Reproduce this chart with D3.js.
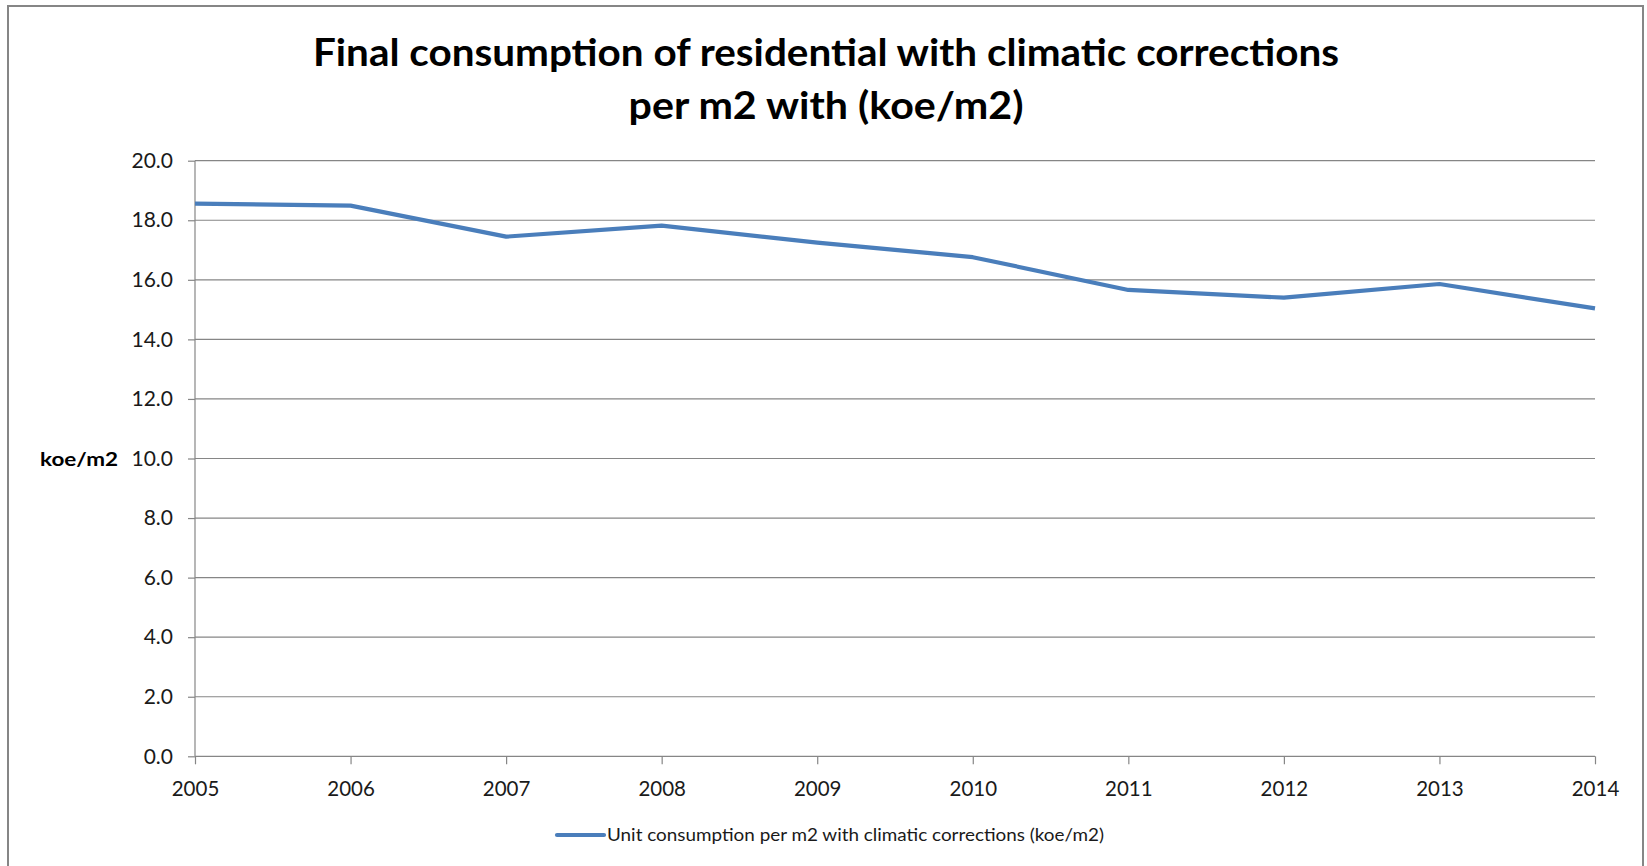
<!DOCTYPE html>
<html><head><meta charset="utf-8">
<script src="https://cdn.jsdelivr.net/npm/d3@7"></script>
<style>html,body{margin:0;padding:0;background:#fff;}svg{display:block;}</style>
</head><body>
<script>
const years = [2005,2006,2007,2008,2009,2010,2011,2012,2013,2014];
const values = [18.56,18.49,17.45,17.82,17.25,16.76,15.66,15.40,15.86,15.04];
const yTicks = [0,2,4,6,8,10,12,14,16,18,20];
const titleLines = ["Final consumption of residential with climatic corrections","per m2 with (koe/m2)"];
const yAxisTitle = "koe/m2";
const seriesName = "Unit consumption per m2 with climatic corrections (koe/m2)";

const W=1647,H=866;
const svg=d3.select("body").append("svg").attr("width",W).attr("height",H);
svg.append("rect").attr("x",8).attr("y",6).attr("width",1635).attr("height",880)
  .attr("fill","#fff").attr("stroke","#868686").attr("stroke-width",2);

const x=d3.scalePoint().domain(years).range([195,1595]);
const y=d3.scaleLinear().domain([0,20]).range([756.3,160.7]);
const font="Lato, 'Open Sans', sans-serif";
const grey="#868686";

// gridlines
svg.append("g").selectAll("line").data(yTicks.filter(d=>d>0)).join("line")
  .attr("x1",195).attr("x2",1595).attr("y1",d=>y(d)).attr("y2",d=>y(d))
  .attr("stroke",grey).attr("stroke-width",1.2);

// y axis
const ya=svg.append("g").attr("transform","translate(195,0)")
  .call(d3.axisLeft(y).tickValues(yTicks).tickFormat(d3.format(".1f")).tickSize(7).tickPadding(15));
ya.select(".domain").attr("stroke",grey).attr("stroke-width",1.2).attr("d","M0,"+y(20)+"V"+y(0));
ya.selectAll(".tick line").attr("stroke",grey).attr("stroke-width",1.2);
ya.selectAll("text").attr("font-family",font).attr("font-size",21).attr("fill","#1a1a1a");

// x axis
const xa=svg.append("g").attr("transform","translate(0,"+y(0)+")")
  .call(d3.axisBottom(x).tickSize(8).tickPadding(17).tickFormat(d3.format("d")));
xa.select(".domain").attr("stroke",grey).attr("stroke-width",1.2).attr("d","M195,0H1595");
xa.selectAll(".tick line").attr("stroke",grey).attr("stroke-width",1.2);
xa.selectAll("text").attr("font-family",font).attr("font-size",20.5).attr("fill","#1a1a1a");

// line
svg.append("path").datum(years.map((d,i)=>[d,values[i]]))
  .attr("fill","none").attr("stroke","#4a7ebb").attr("stroke-width",4.2)
  .attr("stroke-linejoin","round")
  .attr("d",d3.line().x(d=>x(d[0])).y(d=>y(d[1])));

// title
const tt=svg.append("g");
tt.append("text").attr("x",826).attr("y",66).text(titleLines[0])
  .attr("textLength",1026).attr("lengthAdjust","spacingAndGlyphs");
tt.append("text").attr("x",826).attr("y",119).text(titleLines[1])
  .attr("textLength",395).attr("lengthAdjust","spacingAndGlyphs");
tt.selectAll("text").attr("text-anchor","middle").attr("font-family",font)
  .attr("font-weight","bold").attr("font-size",38).attr("fill","#000");

// y axis title
svg.append("text").attr("x",40).attr("y",466).text(yAxisTitle)
  .attr("font-family",font).attr("font-weight","bold").attr("font-size",19.5)
  .attr("textLength",78).attr("lengthAdjust","spacingAndGlyphs").attr("fill","#000");

// legend
svg.append("line").attr("x1",557).attr("x2",604).attr("y1",835).attr("y2",835)
  .attr("stroke","#4a7ebb").attr("stroke-width",4.2).attr("stroke-linecap","round");
svg.append("text").attr("x",607).attr("y",841).text(seriesName)
  .attr("font-family",font).attr("font-size",17.5).attr("fill","#1a1a1a")
  .attr("textLength",497).attr("lengthAdjust","spacingAndGlyphs");
</script>
</body></html>
